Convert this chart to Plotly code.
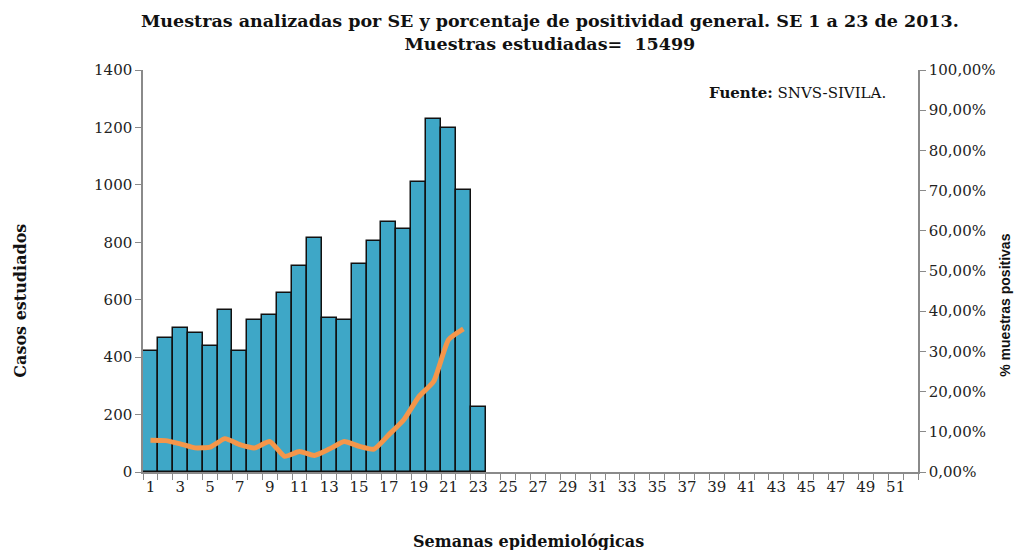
import plotly.graph_objects as go

# Semanas epidemiologicas (SE) 1..52, data only for SE 1..23
semanas = list(range(1, 53))
semanas_datos = list(range(1, 24))
muestras = [420, 465, 502, 485, 439, 563, 420, 530, 546, 622, 716, 815,
            536, 530, 723, 803, 869, 847, 1010, 1229, 1199, 982, 225]
# porcentaje de positividad, SE 1..22
semanas_pos = list(range(1, 23))
positividad = [7.9, 7.8, 7.0, 6.0, 6.2, 8.3, 6.8, 6.0, 7.6, 3.9, 5.1, 4.1,
               5.7, 7.6, 6.4, 5.7, 9.3, 13.0, 18.7, 22.5, 32.9, 35.6]
etiquetas_x = [str(s) for s in semanas if s % 2 == 1]
valores_x = [s for s in semanas if s % 2 == 1]

serif = "DejaVu Serif"
gris = "#8a8a8a"

fig = go.Figure()

fig.add_trace(go.Bar(
    x=semanas_datos, y=muestras,
    marker=dict(color="#3ea7c7", line=dict(color="#111111", width=1.5)),
    width=1.0, showlegend=False
))

fig.add_trace(go.Scatter(
    x=semanas_pos, y=[p / 100 for p in positividad],
    yaxis="y2", mode="lines",
    line=dict(color="#f5964a", width=5, shape="spline", smoothing=0.5),
    showlegend=False
))

rango_x = [0.5, 52.5]
limites = [s - 0.5 for s in semanas] + [52.5]

# the page body adds an 8px offset, so the figure is 8px smaller
fig.update_layout(
    width=1014, height=542,
    plot_bgcolor="white", paper_bgcolor="white",
    margin=dict(l=135, r=104, t=62, b=78, autoexpand=False),
    separators=",.",
    bargap=0,
    xaxis=dict(
        range=rango_x, tickmode="array", tickvals=valores_x, ticktext=etiquetas_x,
        ticks="", showline=True, linecolor=gris, linewidth=1.5,
        showgrid=False, zeroline=False,
        tickfont=dict(family=serif, size=15, color="#222222"),
        minor=dict(tickmode="array", tickvals=limites, ticks="outside",
                   ticklen=6, tickcolor=gris, tickwidth=1.2, showgrid=False)
    ),
    xaxis3=dict(
        range=rango_x, overlaying="x", anchor="y", side="bottom",
        tickmode="array", tickvals=limites, ticks="inside", ticklen=6,
        tickcolor=gris, tickwidth=1.2, showticklabels=False,
        showline=False, showgrid=False, zeroline=False
    ),
    yaxis=dict(
        range=[0, 1400], dtick=200, ticks="outside", ticklen=6,
        tickcolor=gris, tickwidth=1.2,
        showline=True, linecolor=gris, linewidth=1.5,
        showgrid=False, zeroline=False,
        tickfont=dict(family=serif, size=15, color="#222222")
    ),
    yaxis3=dict(
        range=[0, 1400], dtick=200, overlaying="y", anchor="x", side="left",
        ticks="inside", ticklen=6, tickcolor=gris, tickwidth=1.2,
        showticklabels=False, showline=False, showgrid=False, zeroline=False
    ),
    yaxis2=dict(
        range=[0, 1], dtick=0.1, tickformat=".2%", overlaying="y", side="right",
        anchor="x", ticks="outside", ticklen=6, tickcolor=gris, tickwidth=1.2,
        showline=True, linecolor=gris, linewidth=1.5,
        showgrid=False, zeroline=False,
        tickfont=dict(family=serif, size=15, color="#222222")
    ),
    yaxis4=dict(
        range=[0, 1], dtick=0.1, overlaying="y", side="right", anchor="x",
        ticks="inside", ticklen=6, tickcolor=gris, tickwidth=1.2,
        showticklabels=False, showline=False, showgrid=False, zeroline=False
    ),
    annotations=[
        dict(text="<b>Muestras analizadas por SE y porcentaje de positividad general. SE 1 a 23 de 2013.<br>Muestras estudiadas=  15499</b>",
             xref="paper", yref="paper", x=(550 - 143) / 775, y=1.094,
             xanchor="center", yanchor="middle", showarrow=False,
             font=dict(family=serif, size=17.5, color="#111111")),
        dict(text="<b>Fuente:</b> SNVS-SIVILA.", xref="paper", yref="paper",
             x=0.961, y=0.943, xanchor="right", yanchor="middle", showarrow=False,
             font=dict(family=serif, size=15, color="#111111")),
        dict(text="<b>Casos estudiados</b>", xref="paper", yref="paper",
             x=-0.158, y=0.425, xanchor="center", yanchor="middle",
             textangle=-90, showarrow=False,
             font=dict(family=serif, size=16, color="#111111")),
        dict(text="<b>% muestras positivas</b>", xref="paper", yref="paper",
             x=1.113, y=0.415, xanchor="center", yanchor="middle",
             textangle=-90, showarrow=False,
             font=dict(family="Liberation Sans", size=14, color="#111111")),
        dict(text="<b>Semanas epidemiológicas</b>", xref="paper", yref="paper",
             x=(528 - 143) / 775, y=-0.172, xanchor="center", yanchor="middle",
             showarrow=False,
             font=dict(family=serif, size=16, color="#111111")),
    ]
)

fig.write_html("out.html")
